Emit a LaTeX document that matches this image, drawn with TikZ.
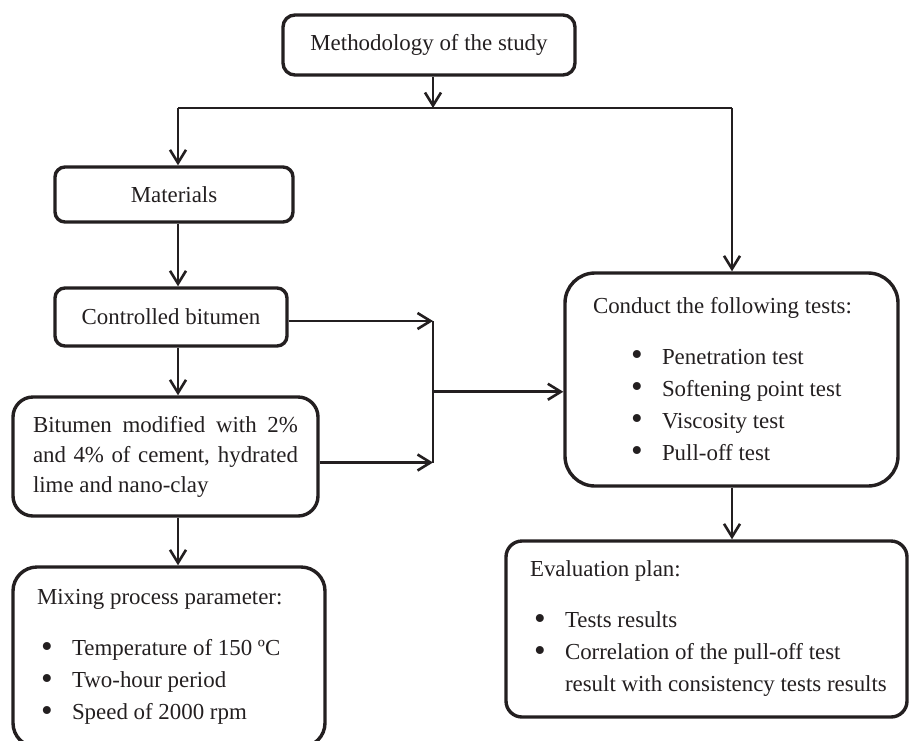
\documentclass[tikz,border=0pt]{standalone}
\usepackage{fontspec}
\setmainfont{Liberation Serif}
\usepackage{graphicx}
\usepackage{tikz}
\usetikzlibrary{arrows.meta,calc,positioning}
\definecolor{ink}{HTML}{231F20}
\tikzset{
  box/.style     = {draw=ink, line width=1.7pt, rounded corners=5pt, align=center,
                    text=ink, inner sep=0pt, font=\fontsize{11.45}{16}\selectfont},
  listbox/.style = {box, align=flush left},
  wire/.style    = {draw=ink, line width=1.3pt},
  flow/.style    = {wire, -{Straight Barb[length=6.5pt,width=8pt,line width=1.3pt]}},
}
\newcommand{\bul}[1]{\hspace*{#1}\makebox[15.5pt][l]{\raisebox{-0.9pt}{\scalebox{1.45}{\textbullet}}}}

\begin{document}
\begin{tikzpicture}[x=0.5pt,y=-0.5pt]
  \clip (0,0) rectangle (909,740);
  % left column
  \node[box, rounded corners=6pt, minimum width=146pt, minimum height=30pt]
      (method) at (429,45) {Methodology of the study};
  \node[box, minimum width=119pt, minimum height=27.5pt]
      (materials) at (174,194.5) {Materials};
  \node[box, minimum width=116pt, minimum height=29pt]
      (controlled) at (171,317) {Controlled bitumen};
  \node[box, rounded corners=10pt, align=justify, text width=132.5pt, inner xsep=10pt,
        minimum height=59.5pt, font=\fontsize{11.45}{15}\selectfont]
      (modified) at (165.5,456.5)
      {Bitumen modified with 2\%\linebreak and 4\% of cement, hydrated\linebreak lime and nano-clay};
  \node[listbox, rounded corners=12pt, text width=132pt, inner xsep=12pt, minimum height=90pt]
      (mixing) at (169,657) {Mixing process parameter:\\[9.5pt]
      \bul{2pt}Temperature of 150 ºC\\
      \bul{2pt}Two-hour period\\
      \bul{2pt}Speed of 2000 rpm};
  % right column
  \node[listbox, rounded corners=15pt, text width=138.5pt, inner xsep=14pt, minimum height=106.5pt]
      (conduct) at (731.5,379.5) {Conduct the following tests:\\[9.5pt]
      \bul{19pt}Penetration test\\
      \bul{19pt}Softening point test\\
      \bul{19pt}Viscosity test\\
      \bul{19pt}Pull-off test};
  \node[listbox, rounded corners=8pt, text width=176.5pt, inner xsep=12pt, minimum height=88pt]
      (evaluation) at (706.5,629) {Evaluation plan:\\[9.5pt]
      \bul{2pt}Tests results\\
      \bul{2pt}Correlation of the pull-off test\\
      \hspace*{17.5pt}\mbox{result with consistency tests results}};
  % junctions
  \coordinate (lcol) at (178,108);
  \coordinate (rcol) at (732,108);
  \coordinate (bar) at (433,0);
  \coordinate (upper) at ([yshift=-2pt]controlled.east);
  \coordinate (lower) at ([yshift=-3pt]modified.east);
  % connectors
  \draw[flow] (bar |- method.south) -- (bar |- lcol);
  \draw[wire] (lcol) -- (rcol);
  \draw[flow] (lcol) -- (lcol |- materials.north);
  \draw[flow] (rcol) -- (rcol |- conduct.north);
  \draw[flow] (lcol |- materials.south) -- (lcol |- controlled.north);
  \draw[flow] (lcol |- controlled.south) -- (lcol |- modified.north);
  \draw[flow] (lcol |- modified.south) -- (lcol |- mixing.north);
  \draw[flow] (upper) -- (bar |- upper);
  \draw[flow] (lower) -- (bar |- lower);
  \draw[wire] (bar |- upper) -- (bar |- lower);
  \coordinate (mid) at ($(bar |- upper)!0.5!(bar |- lower)$);
  \draw[flow] (mid) -- (mid -| conduct.west);
  \draw[flow] (rcol |- conduct.south) -- (rcol |- evaluation.north);
\end{tikzpicture}
\end{document}
